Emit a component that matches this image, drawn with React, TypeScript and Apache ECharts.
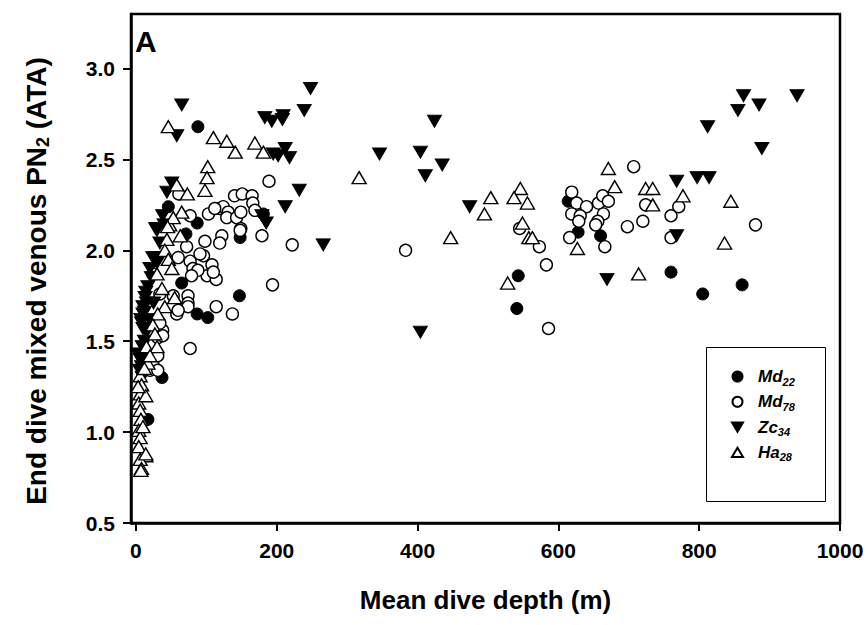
import React, { useEffect, useRef } from 'react';
import * as echarts from 'echarts';

const xTicks = [0, 200, 400, 600, 800, 1000];
const yTicks = [0.5, 1.0, 1.5, 2.0, 2.5, 3.0];

const md22 = [
  [88, 2.68], [46, 2.24], [87, 2.15], [71, 2.09], [181, 2.20], [148, 2.07], [65, 1.82], [147, 1.75],
  [87, 1.65], [102, 1.63], [37, 1.30], [17, 1.07], [543, 1.86], [541, 1.68], [614, 2.27], [628, 2.10],
  [660, 2.08], [760, 1.88], [805, 1.76], [861, 1.81],
];

const md78 = [
  [189, 2.38], [140, 2.30], [151, 2.31], [165, 2.30], [166, 2.26], [119, 2.23], [124, 2.24], [131, 2.21],
  [103, 2.20], [129, 2.18], [143, 2.18], [149, 2.21], [169, 2.22], [149, 2.12], [179, 2.08], [222, 2.03],
  [122, 2.08], [119, 2.04], [98, 2.05], [96, 1.97], [108, 1.92], [101, 1.86], [114, 1.84], [194, 1.81],
  [114, 1.69], [137, 1.65], [77, 2.19], [61, 2.31], [112, 2.23], [148, 2.11], [72, 2.02], [60, 1.96],
  [77, 1.94], [91, 1.98], [81, 1.90], [88, 1.89], [79, 1.86], [24, 1.87], [34, 1.76], [53, 1.75],
  [74, 1.75], [74, 1.71], [58, 1.65], [74, 1.69], [77, 1.46], [38, 1.56], [34, 1.60], [31, 1.52],
  [20, 1.34], [24, 1.38], [110, 1.88], [60, 1.67], [31, 1.42], [31, 1.34], [38, 1.53],
  [383, 2.00], [545, 2.12], [707, 2.46], [619, 2.32], [626, 2.26], [640, 2.24], [619, 2.20], [631, 2.19],
  [629, 2.16], [616, 2.07], [666, 2.02], [657, 2.26], [663, 2.30], [671, 2.27], [664, 2.20], [656, 2.16],
  [653, 2.14], [573, 2.02], [583, 1.92], [698, 2.13], [720, 2.16], [724, 2.25], [760, 2.19], [760, 2.07],
  [771, 2.24], [880, 2.14], [586, 1.57],
];

const zc34 = [
  [65, 2.80], [58, 2.63], [183, 2.73], [193, 2.71], [208, 2.72], [209, 2.74], [239, 2.77], [248, 2.89],
  [195, 2.53], [202, 2.52], [212, 2.56], [218, 2.51], [232, 2.33], [212, 2.24], [185, 2.15], [179, 2.19],
  [51, 2.37], [44, 2.32], [266, 2.03], [346, 2.53], [404, 2.54], [424, 2.71], [435, 2.47], [411, 2.41],
  [474, 2.24], [404, 1.55], [863, 2.85], [885, 2.80], [855, 2.77], [939, 2.85], [812, 2.68], [889, 2.56],
  [768, 2.38], [797, 2.40], [814, 2.40], [768, 2.08], [669, 1.84],
  [38, 2.19], [28, 2.12], [30, 2.11], [27, 1.96], [24, 1.96], [17, 1.80], [13, 1.74], [15, 1.71],
  [10, 1.69], [10, 1.65], [7, 1.62], [10, 1.57], [6, 1.42], [3, 1.43], [6, 1.40], [8, 1.36],
  [20, 1.90], [22, 1.85], [14, 1.77], [12, 1.66], [8, 1.60], [12, 1.50], [9, 1.47], [5, 1.34],
  [9, 1.30], [15, 1.55], [20, 1.62], [25, 1.71], [30, 1.93], [34, 2.04], [40, 2.14],
];

const ha28 = [
  [46, 2.68], [110, 2.62], [129, 2.60], [141, 2.54], [169, 2.59], [181, 2.54], [102, 2.46], [101, 2.40],
  [98, 2.33], [58, 2.36], [73, 2.31], [317, 2.40], [504, 2.29], [495, 2.20], [546, 2.34], [537, 2.29],
  [556, 2.26], [549, 2.15], [558, 2.07], [447, 2.07], [528, 1.82], [563, 2.07], [671, 2.45], [680, 2.35],
  [724, 2.34], [734, 2.34], [734, 2.25], [777, 2.30], [845, 2.27], [627, 2.01], [714, 1.87], [836, 2.04],
  [65, 2.21], [48, 2.14], [63, 2.08], [44, 2.06], [41, 2.00], [46, 1.95], [51, 1.90], [30, 1.87],
  [37, 1.79], [55, 1.74], [41, 1.69], [31, 1.65], [24, 1.59], [27, 1.54], [15, 1.47], [30, 1.47],
  [17, 1.38], [6, 1.31], [8, 1.26], [6, 1.21], [4, 1.16], [6, 1.12], [7, 1.07], [4, 1.01],
  [6, 0.97], [4, 0.92], [14, 0.87], [6, 0.85], [8, 0.80], [14, 1.20], [10, 1.03], [14, 0.88],
  [7, 0.79], [20, 1.42], [12, 1.35], [3, 1.25], [53, 2.18], [45, 2.13],
];

const FONT = 'Liberation Sans, Arial, Helvetica, sans-serif';

const legendLabels: Record<string, string> = {
  Md22: '{n|Md}{s|22}',
  Md78: '{n|Md}{s|78}',
  Zc34: '{n|Zc}{s|34}',
  Ha28: '{n|Ha}{s|28}',
};

export default function App() {
  const ref = useRef<HTMLDivElement>(null);
  useEffect(() => {
    const chart = echarts.init(ref.current!, null, { renderer: 'svg' });
    const open = { color: '#fff', borderColor: '#000', borderWidth: 1.4, opacity: 1 };
    const filled = { color: '#000', borderColor: '#000', borderWidth: 1, opacity: 1 };
    chart.setOption({
      animation: false,
      backgroundColor: '#fff',
      grid: {
        left: 131, top: 14, right: 28, bottom: 102,
        show: true, borderColor: '#000', borderWidth: 2.5, backgroundColor: 'transparent',
      },
      xAxis: {
        type: 'value', min: -7, max: 1000,
        splitLine: { show: false },
        axisLine: { show: true, onZero: false, lineStyle: { color: '#000', width: 2.5 } },
        axisTick: { show: true, length: 8, customValues: xTicks, lineStyle: { color: '#000', width: 2 } },
        axisLabel: {
          customValues: xTicks, margin: 17, color: '#000',
          fontFamily: FONT, fontWeight: 'bold', fontSize: 21,
          formatter: (v: number) => String(v),
        },
        name: 'Mean dive depth (m)', nameLocation: 'middle', nameGap: 64,
        nameTextStyle: { fontFamily: FONT, fontWeight: 'bold', fontSize: 26, color: '#000' },
      },
      yAxis: {
        type: 'value', min: 0.5, max: 3.3,
        splitLine: { show: false },
        axisLine: { show: true, onZero: false, lineStyle: { color: '#000', width: 2.5 } },
        axisTick: { show: true, length: 8, customValues: yTicks, lineStyle: { color: '#000', width: 2 } },
        axisLabel: {
          customValues: yTicks, margin: 16, color: '#000',
          fontFamily: FONT, fontWeight: 'bold', fontSize: 21,
          formatter: (v: number) => v.toFixed(1),
        },
        name: '{a|End dive mixed venous PN}{b|2}{a| (ATA)}',
        nameLocation: 'middle', nameGap: 79, nameRotate: 90,
        nameTextStyle: {
          color: '#000',
          padding: [0, 25, 0, 0],
          rich: {
            a: { fontFamily: FONT, fontWeight: 'bold', fontSize: 28, lineHeight: 32, color: '#000' },
            b: { fontFamily: FONT, fontWeight: 'bold', fontSize: 18, lineHeight: 17, verticalAlign: 'bottom', color: '#000' },
          },
        },
      },
      legend: {
        orient: 'vertical', left: 726, top: 363,
        itemWidth: 11, itemHeight: 10, itemGap: 6.3,
        data: [
          { name: 'Md22', icon: 'circle' },
          { name: 'Md78', icon: 'circle' },
          { name: 'Zc34', icon: 'path://M0,0L14,0L7,12Z' },
          { name: 'Ha28', icon: 'path://M7,0L14,12L0,12Z' },
        ],
        formatter: (name: string) => legendLabels[name],
        textStyle: {
          padding: [0, 0, 0, 10],
          rich: {
            n: { fontFamily: FONT, fontWeight: 'bold', fontStyle: 'italic', fontSize: 17, lineHeight: 21, color: '#000' },
            s: { fontFamily: FONT, fontWeight: 'bold', fontStyle: 'italic', fontSize: 11, lineHeight: 9, verticalAlign: 'bottom', color: '#000' },
          },
        },
        selectedMode: false,
      },
      graphic: [
        {
          type: 'rect', left: 706, top: 347, z: 1,
          shape: { width: 119, height: 154 },
          style: { fill: '#fff', stroke: '#000', lineWidth: 1 },
        },
        {
          type: 'text', left: 135, top: 26, z: 10,
          style: { text: 'A', font: `bold 30px ${FONT}`, fill: '#000' },
        },
      ],
      series: [
        { name: 'Md22', type: 'scatter', data: md22, symbol: 'circle', symbolSize: 12, itemStyle: filled, silent: true },
        { name: 'Md78', type: 'scatter', data: md78, symbol: 'circle', symbolSize: 12, itemStyle: open, silent: true },
        { name: 'Zc34', type: 'scatter', data: zc34, symbol: 'triangle', symbolRotate: 180, symbolSize: [14, 12], itemStyle: filled, silent: true },
        { name: 'Ha28', type: 'scatter', data: ha28, symbol: 'triangle', symbolSize: [14, 12], itemStyle: open, silent: true },
      ],
    });
    return () => chart.dispose();
  }, []);
  return <div ref={ref} style={{ position: 'absolute', left: 0, top: 0, width: 868, height: 625 }} />;
}
